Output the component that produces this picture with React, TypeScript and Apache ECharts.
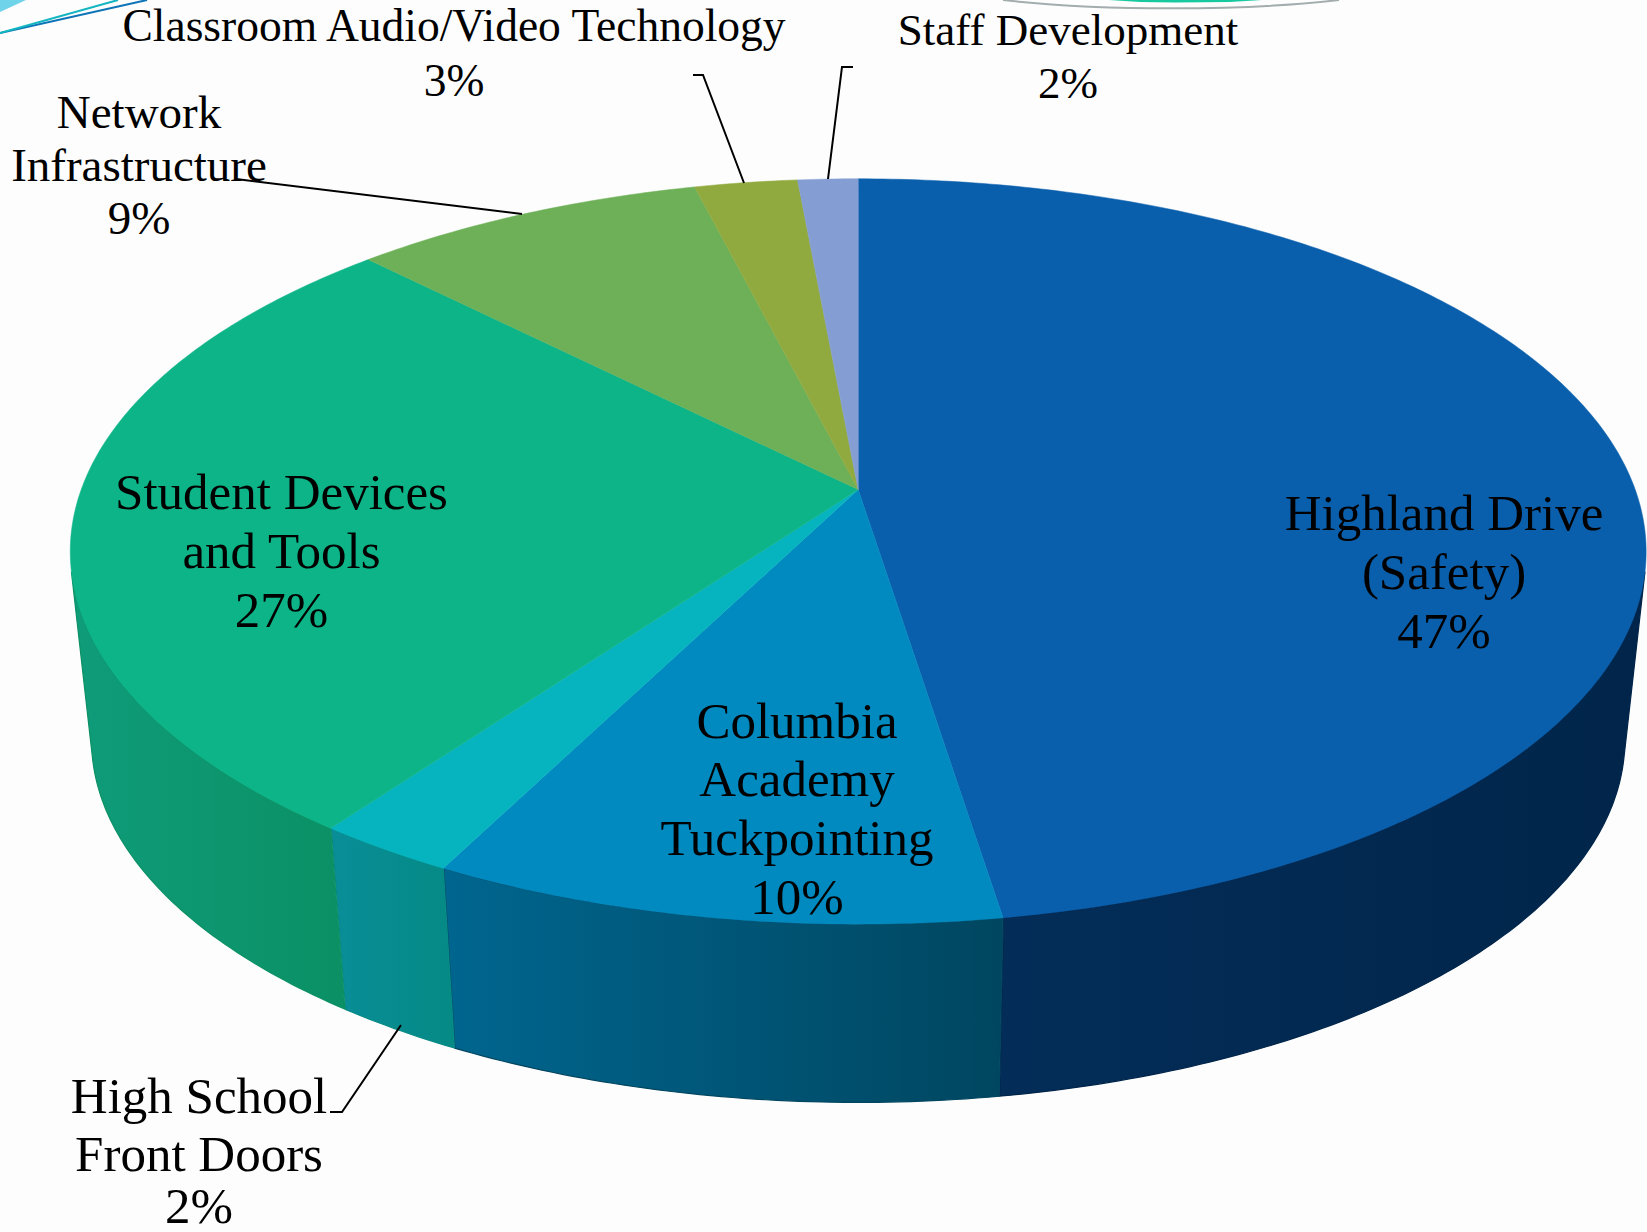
import React, { useEffect, useRef } from "react";
import * as echarts from "echarts";

const categories = [
  "Highland Drive\n(Safety)",
  "Columbia\nAcademy\nTuckpointing",
  "High School\nFront Doors",
  "Student Devices\nand Tools",
  "Network\nInfrastructure",
  "Classroom Audio/Video Technology",
  "Staff Development",
];
const values = [47.51, 10.01, 2.48, 27.55, 8.52, 2.48, 1.45];
const percentLabels = ["47%", "10%", "2%", "27%", "9%", "3%", "2%"];

const topColors = ["#0a5fac", "#008ac0", "#06b4bf", "#0db488", "#6db057", "#91aa40", "#849dd3"];
const wallLeft = ["#032d58", "#00668f", "#098d98", "#0f9c7a", "#6db057", "#91aa40", "#849dd3"];
const wallRight = ["#01254a", "#004660", "#058a85", "#0b9064", "#6db057", "#91aa40", "#849dd3"];

// label layout: centre x, first line y, line step, font size, nudge of the percent line
const labelLayout = [
  { x: 1444, y: 512.5, step: 59, size: 51, pctDy: 0 },
  { x: 797, y: 720.5, step: 58.7, size: 51, pctDy: 0 },
  { x: 199, y: 1095.5, step: 58.5, size: 51, pctDy: -7 },
  { x: 281.5, y: 491.5, step: 59, size: 51, pctDy: 0 },
  { x: 139, y: 112, step: 53, size: 47, pctDy: 0 },
  { x: 454, y: 25.5, step: 55, size: 45.5, pctDy: 0 },
  { x: 1068, y: 30, step: 53, size: 45, pctDy: 0 },
];

const leaders = [
  [[236, 179], [522, 214]],
  [[693, 75], [703, 75], [744, 183]],
  [[853, 67], [842, 67], [828, 179]],
  [[330, 1112], [342, 1112], [401, 1025]],
];

// perspective pie geometry
const CX = 858.2;
const CY = 489.6;
const A = 777;
const B = 362.4;
const K = -0.166;
const DEPTH = 190;
const SHRINK = 0.973;

const project = (pct: number, low: boolean): number[] => {
  const th = (pct / 100) * Math.PI * 2;
  const x = Math.sin(th);
  const y = -Math.cos(th);
  const d = 1 + K * y;
  const s = low ? SHRINK : 1;
  return [CX + (s * A * x) / d, CY + (low ? DEPTH : 0) + (s * B * y) / d];
};

const isFrontWall = (pct: number) => {
  const e = 0.01;
  const p0 = project(pct - e, false);
  const p1 = project(pct + e, false);
  const p = project(pct, false);
  const l = project(pct, true);
  return (p1[0] - p0[0]) * (l[1] - p[1]) - (p1[1] - p0[1]) * (l[0] - p[0]) < 0;
};

const starts = values.map((_, i) => values.slice(0, i).reduce((a, b) => a + b, 0));

const arc = (from: number, to: number, low: boolean) => {
  const n = Math.max(2, Math.ceil((to - from) / 0.2));
  const pts: number[][] = [];
  for (let i = 0; i <= n; i++) pts.push(project(from + ((to - from) * i) / n, low));
  return pts;
};

const renderWall = (params: any, api: any) => {
  const i = params.dataIndex;
  const from = starts[i];
  const to = from + api.value(1);
  let a = -1;
  let b = -1;
  for (let t = from; t <= to; t += 0.02) {
    if (isFrontWall(t)) {
      if (a < 0) a = t;
      b = t;
    }
  }
  if (a < 0 || b <= a) return { type: "group", children: [] };
  const pts = arc(a, b, false).concat(arc(a, b, true).reverse());
  return {
    type: "polygon",
    shape: { points: pts },
    style: {
      fill: {
        type: "linear",
        x: 1,
        y: 0,
        x2: 0,
        y2: 0,
        colorStops: [
          { offset: 0, color: wallRight[i] },
          { offset: 1, color: wallLeft[i] },
        ],
      },
      stroke: wallRight[i],
      lineWidth: 1.2,
    },
  };
};

const renderTop = (params: any, api: any) => {
  const i = params.dataIndex;
  const from = starts[i];
  const to = from + api.value(1);
  return {
    type: "polygon",
    shape: { points: [[CX, CY] as number[]].concat(arc(from, to, false)) },
    style: { fill: topColors[i], stroke: topColors[i], lineWidth: 0.5 },
  };
};

const renderLabel = (params: any) => {
  const i = params.dataIndex;
  const lay = labelLayout[i];
  const names = categories[i].split("\n");
  const lines = names.concat(percentLabels[i]);
  return {
    type: "group",
    children: lines.map((text, n) => ({
      type: "text",
      x: lay.x,
      y: lay.y + n * lay.step + (n === names.length ? lay.pctDy : 0),
      style: {
        text,
        fill: "#000000",
        fontFamily: "'Liberation Serif', serif",
        fontSize: lay.size,
        align: "center",
        verticalAlign: "middle",
      },
    })),
  };
};

export default function App() {
  const ref = useRef<HTMLDivElement>(null);
  useEffect(() => {
    const chart = echarts.init(ref.current as HTMLDivElement, undefined, { renderer: "svg" });
    const data = categories.map((name, i) => ({ name, value: [i, values[i]] }));
    chart.setOption({
      animation: false,
      backgroundColor: "#fdfdfd",
      series: [
        { type: "custom", coordinateSystem: "none", z: 1, data, renderItem: renderWall, silent: true },
        { type: "custom", coordinateSystem: "none", z: 2, data, renderItem: renderTop, silent: true },
        { type: "custom", coordinateSystem: "none", z: 4, data, renderItem: renderLabel, silent: true },
      ],
      graphic: [
        ...leaders.map((points) => ({
          type: "polyline",
          z: 3,
          shape: { points },
          style: { stroke: "#000000", lineWidth: 2, fill: "none" },
        })),
        { type: "polygon", z: 3, shape: { points: [[0, 0], [26, 0], [0, 12]] }, style: { fill: "#6fd3ea" } },
        { type: "line", z: 3, shape: { x1: 0, y1: 33, x2: 147, y2: 0 }, style: { stroke: "#0d74b8", lineWidth: 2 } },
        { type: "line", z: 3, shape: { x1: 0, y1: 33, x2: 118, y2: 0 }, style: { stroke: "#12b5c0", lineWidth: 2 } },
        {
          type: "polygon",
          z: 3,
          shape: { points: [[1109, 0], [1140, 2], [1175, 2.5], [1230, 2], [1262, 0]] },
          style: { fill: "#18c9a0" },
        },
        {
          type: "bezierCurve",
          z: 3,
          shape: { x1: 1003, y1: 0, cpx1: 1100, cpy1: 11, cpx2: 1245, cpy2: 11, x2: 1339, y2: 0 },
          style: { stroke: "#a3adad", lineWidth: 2, fill: "none" },
        },
      ],
    });
    return () => chart.dispose();
  }, []);
  return <div ref={ref} style={{ position: "absolute", left: 0, top: 0, width: 1647, height: 1232 }} />;
}
